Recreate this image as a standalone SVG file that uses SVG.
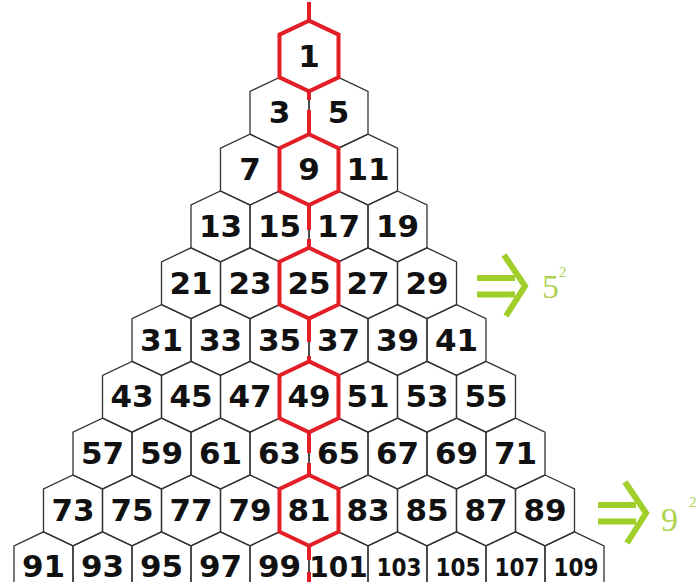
<svg xmlns="http://www.w3.org/2000/svg" xmlns:xlink="http://www.w3.org/1999/xlink" width="697" height="582" viewBox="0 0 697 582">
<style>
.hx{fill:none;stroke:#333;stroke-width:1.3}
.rh{fill:none;stroke:#e21f26;stroke-width:4}
.n{font-family:"DejaVu Sans","Liberation Sans",sans-serif;font-weight:bold;font-size:31px;fill:#111;text-anchor:middle}
.s{font-size:28px}
.t{font-size:25px}
.rl{stroke:#e21f26;stroke-width:4;fill:none}
.ar{stroke:#9fcf28;stroke-width:6;fill:none}
.g{font-family:"Liberation Serif","DejaVu Serif",serif;fill:#aed24f}
</style>
<defs>
<polygon id="h" points="0,-35.4 29.5,-21.4 29.5,21.4 0,35.4 -29.5,21.4 -29.5,-21.4"/>
</defs>
<rect width="697" height="582" fill="#fff"/>
<g id="nodes">
<g id="n3"><use href="#h" class="hx" x="279.5" y="112.8"/><text class="n" x="279.5" y="123.3">3</text></g>
<g id="n5"><use href="#h" class="hx" x="338.5" y="112.8"/><text class="n" x="338.5" y="123.3">5</text></g>
<g id="n7"><use href="#h" class="hx" x="250" y="169.6"/><text class="n" x="250" y="180.1">7</text></g>
<g id="n11"><use href="#h" class="hx" x="368" y="169.6"/><text class="n" x="368" y="180.1">11</text></g>
<g id="n13"><use href="#h" class="hx" x="220.5" y="226.4"/><text class="n" x="220.5" y="236.9">13</text></g>
<g id="n15"><use href="#h" class="hx" x="279.5" y="226.4"/><text class="n" x="279.5" y="236.9">15</text></g>
<g id="n17"><use href="#h" class="hx" x="338.5" y="226.4"/><text class="n" x="338.5" y="236.9">17</text></g>
<g id="n19"><use href="#h" class="hx" x="397.5" y="226.4"/><text class="n" x="397.5" y="236.9">19</text></g>
<g id="n21"><use href="#h" class="hx" x="191" y="283.2"/><text class="n" x="191" y="293.7">21</text></g>
<g id="n23"><use href="#h" class="hx" x="250" y="283.2"/><text class="n" x="250" y="293.7">23</text></g>
<g id="n27"><use href="#h" class="hx" x="368" y="283.2"/><text class="n" x="368" y="293.7">27</text></g>
<g id="n29"><use href="#h" class="hx" x="427" y="283.2"/><text class="n" x="427" y="293.7">29</text></g>
<g id="n31"><use href="#h" class="hx" x="161.5" y="340"/><text class="n" x="161.5" y="350.5">31</text></g>
<g id="n33"><use href="#h" class="hx" x="220.5" y="340"/><text class="n" x="220.5" y="350.5">33</text></g>
<g id="n35"><use href="#h" class="hx" x="279.5" y="340"/><text class="n" x="279.5" y="350.5">35</text></g>
<g id="n37"><use href="#h" class="hx" x="338.5" y="340"/><text class="n" x="338.5" y="350.5">37</text></g>
<g id="n39"><use href="#h" class="hx" x="397.5" y="340"/><text class="n" x="397.5" y="350.5">39</text></g>
<g id="n41"><use href="#h" class="hx" x="456.5" y="340"/><text class="n" x="456.5" y="350.5">41</text></g>
<g id="n43"><use href="#h" class="hx" x="132" y="396.8"/><text class="n" x="132" y="407.3">43</text></g>
<g id="n45"><use href="#h" class="hx" x="191" y="396.8"/><text class="n" x="191" y="407.3">45</text></g>
<g id="n47"><use href="#h" class="hx" x="250" y="396.8"/><text class="n" x="250" y="407.3">47</text></g>
<g id="n51"><use href="#h" class="hx" x="368" y="396.8"/><text class="n" x="368" y="407.3">51</text></g>
<g id="n53"><use href="#h" class="hx" x="427" y="396.8"/><text class="n" x="427" y="407.3">53</text></g>
<g id="n55"><use href="#h" class="hx" x="486" y="396.8"/><text class="n" x="486" y="407.3">55</text></g>
<g id="n57"><use href="#h" class="hx" x="102.5" y="453.6"/><text class="n" x="102.5" y="464.1">57</text></g>
<g id="n59"><use href="#h" class="hx" x="161.5" y="453.6"/><text class="n" x="161.5" y="464.1">59</text></g>
<g id="n61"><use href="#h" class="hx" x="220.5" y="453.6"/><text class="n" x="220.5" y="464.1">61</text></g>
<g id="n63"><use href="#h" class="hx" x="279.5" y="453.6"/><text class="n" x="279.5" y="464.1">63</text></g>
<g id="n65"><use href="#h" class="hx" x="338.5" y="453.6"/><text class="n" x="338.5" y="464.1">65</text></g>
<g id="n67"><use href="#h" class="hx" x="397.5" y="453.6"/><text class="n" x="397.5" y="464.1">67</text></g>
<g id="n69"><use href="#h" class="hx" x="456.5" y="453.6"/><text class="n" x="456.5" y="464.1">69</text></g>
<g id="n71"><use href="#h" class="hx" x="515.5" y="453.6"/><text class="n" x="515.5" y="464.1">71</text></g>
<g id="n73"><use href="#h" class="hx" x="73" y="510.4"/><text class="n" x="73" y="520.9">73</text></g>
<g id="n75"><use href="#h" class="hx" x="132" y="510.4"/><text class="n" x="132" y="520.9">75</text></g>
<g id="n77"><use href="#h" class="hx" x="191" y="510.4"/><text class="n" x="191" y="520.9">77</text></g>
<g id="n79"><use href="#h" class="hx" x="250" y="510.4"/><text class="n" x="250" y="520.9">79</text></g>
<g id="n83"><use href="#h" class="hx" x="368" y="510.4"/><text class="n" x="368" y="520.9">83</text></g>
<g id="n85"><use href="#h" class="hx" x="427" y="510.4"/><text class="n" x="427" y="520.9">85</text></g>
<g id="n87"><use href="#h" class="hx" x="486" y="510.4"/><text class="n" x="486" y="520.9">87</text></g>
<g id="n89"><use href="#h" class="hx" x="545" y="510.4"/><text class="n" x="545" y="520.9">89</text></g>
<g id="n91"><use href="#h" class="hx" x="43.5" y="567.2"/><text class="n" x="43.5" y="576.5">91</text></g>
<g id="n93"><use href="#h" class="hx" x="102.5" y="567.2"/><text class="n" x="102.5" y="576.5">93</text></g>
<g id="n95"><use href="#h" class="hx" x="161.5" y="567.2"/><text class="n" x="161.5" y="576.5">95</text></g>
<g id="n97"><use href="#h" class="hx" x="220.5" y="567.2"/><text class="n" x="220.5" y="576.5">97</text></g>
<g id="n99"><use href="#h" class="hx" x="279.5" y="567.2"/><text class="n" x="279.5" y="576.5">99</text></g>
<g id="n101"><use href="#h" class="hx" x="338.5" y="567.2"/><text class="n s" x="338.5" y="576.5">101</text></g>
<g id="n103"><use href="#h" class="hx" x="397.5" y="567.2"/><text class="n t" x="399" y="576" textLength="45" lengthAdjust="spacingAndGlyphs">103</text></g>
<g id="n105"><use href="#h" class="hx" x="456.5" y="567.2"/><text class="n t" x="458" y="576" textLength="45" lengthAdjust="spacingAndGlyphs">105</text></g>
<g id="n107"><use href="#h" class="hx" x="515.5" y="567.2"/><text class="n t" x="517" y="576" textLength="45" lengthAdjust="spacingAndGlyphs">107</text></g>
<g id="n109"><use href="#h" class="hx" x="574.5" y="567.2"/><text class="n t" x="576" y="576" textLength="45" lengthAdjust="spacingAndGlyphs">109</text></g>
<g id="n1"><use href="#h" class="rh" x="309" y="56"/><text class="n" x="309" y="66.5">1</text></g>
<g id="n9"><use href="#h" class="rh" x="309" y="169.6"/><text class="n" x="309" y="180.1">9</text></g>
<g id="n25"><use href="#h" class="rh" x="309" y="283.2"/><text class="n" x="309" y="293.7">25</text></g>
<g id="n49"><use href="#h" class="rh" x="309" y="396.8"/><text class="n" x="309" y="407.3">49</text></g>
<g id="n81"><use href="#h" class="rh" x="309" y="510.4"/><text class="n" x="309" y="520.9">81</text></g>
</g>
<g id="connectors">
<line class="rl" x1="309" y1="2" x2="309" y2="20.6"/>
<line class="rl" x1="309" y1="91.4" x2="309" y2="100"/>
<line class="rl" x1="309" y1="110" x2="309" y2="134.2"/>
<line class="rl" x1="309" y1="205" x2="309" y2="230"/>
<line class="rl" x1="309" y1="239" x2="309" y2="247.8"/>
<line class="rl" x1="309" y1="318.6" x2="309" y2="342"/>
<line class="rl" x1="309" y1="356" x2="309" y2="361.4"/>
<line class="rl" x1="309" y1="432.2" x2="309" y2="453"/>
<line class="rl" x1="309" y1="463" x2="309" y2="475"/>
<line class="rl" x1="309" y1="545.8" x2="309" y2="560"/>
<line class="rl" x1="309" y1="572" x2="309" y2="582"/>
</g>
<g id="note5">
<line class="ar" x1="477" y1="278" x2="515" y2="278"/>
<line class="ar" x1="477" y1="294.5" x2="515" y2="294.5"/>
<polyline class="ar" points="504,255 525,286 506,316"/>
<text class="g" x="542" y="298" font-size="34">5</text>
<text class="g" x="559" y="277" font-size="15">2</text>
</g>
<g id="note9">
<line class="ar" x1="598" y1="505" x2="636" y2="505"/>
<line class="ar" x1="598" y1="521.5" x2="636" y2="521.5"/>
<polyline class="ar" points="625,482 646,513 627,543"/>
<text class="g" x="661" y="531" font-size="34">9</text>
<text class="g" x="689" y="507" font-size="15">2</text>
</g>
</svg>
